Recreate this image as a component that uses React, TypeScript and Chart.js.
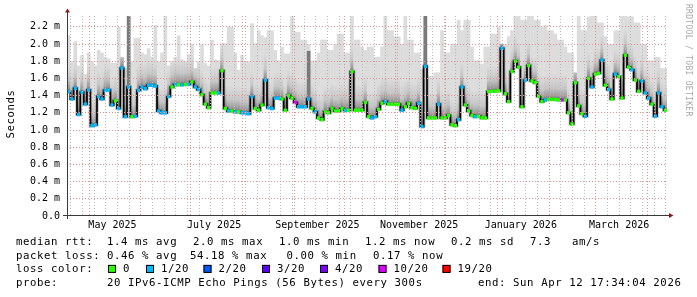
import React, { useEffect, useRef } from 'react';
import { Chart, registerables } from 'chart.js';

Chart.register(...registerables);

// ------------------------------------------------------------------
// DATA
// 360 days ending Sun Apr 12 17:34:04 2026, one sample every 2 days
// ------------------------------------------------------------------
const RANGE_DAYS = 360;
const SAMPLE_DAYS = 2;

const MEDIAN_MS = [
  1.445, 1.36, 1.485, 1.18, 1.44, 1.3, 1.465, 1.05, 1.06, 1.39,
  1.36, 1.46, 1.465, 1.29, 1.34, 1.25, 1.72, 1.155, 1.5, 1.155,
  1.16, 1.46, 1.5, 1.48, 1.52, 1.52, 1.51, 1.22, 1.2, 1.2,
  1.39, 1.5, 1.525, 1.525, 1.525, 1.53, 1.53, 1.56, 1.5, 1.47,
  1.41, 1.3, 1.26, 1.43, 1.43, 1.43, 1.69, 1.25, 1.22, 1.22,
  1.21, 1.21, 1.2, 1.2, 1.19, 1.39, 1.25, 1.23, 1.29, 1.58,
  1.26, 1.25, 1.37, 1.37, 1.36, 1.23, 1.4, 1.37, 1.32, 1.27,
  1.27, 1.27, 1.36, 1.25, 1.21, 1.14, 1.12, 1.21, 1.2, 1.25,
  1.22, 1.22, 1.25, 1.23, 1.23, 1.68, 1.23, 1.23, 1.23, 1.32,
  1.155, 1.14, 1.155, 1.24, 1.31, 1.33, 1.3, 1.3, 1.3, 1.3,
  1.23, 1.27, 1.31, 1.26, 1.25, 1.31, 1.04, 1.74, 1.14, 1.14,
  1.14, 1.3, 1.14, 1.14, 1.17, 1.06, 1.05, 1.12, 1.5, 1.29,
  1.22, 1.17, 1.155, 1.16, 1.14, 1.14, 1.445, 1.45, 1.45, 1.455,
  1.95, 1.42, 1.33, 1.68, 1.8, 1.73, 1.27, 1.58, 1.75, 1.57,
  1.55, 1.39, 1.33, 1.35, 1.355, 1.355, 1.355, 1.35, 1.35, 1.35,
  1.2, 1.07, 1.55, 1.28, 1.19, 1.16, 1.6, 1.5, 1.65, 1.66,
  1.81, 1.52, 1.47, 1.36, 1.65, 1.62, 1.37, 1.87, 1.73, 1.7,
  1.58, 1.45, 1.57, 1.43, 1.37, 1.3, 1.16, 1.43, 1.27, 1.23,
];

const SMOKE_MAX_MS = [
  2.1, 1.8, 2.03, 1.75, 1.87, 1.65, 1.9, 1.8, 1.75, 1.93,
  1.9, 1.85, 1.83, 1.78, 1.78, 2.2, 1.85, 1.72, 2.34, 1.8,
  2.07, 2.07, 1.9, 1.88, 1.95, 1.85, 2.22, 1.8, 1.9, 2.34,
  1.75, 1.8, 1.85, 2.1, 1.82, 1.8, 1.88, 2.0, 1.72, 1.8,
  2.0, 1.78, 1.75, 2.05, 1.82, 1.81, 2.01, 2.01, 2.2, 2.2,
  1.9, 1.7, 1.87, 1.8, 1.8, 2.24, 2.01, 2.16, 2.1, 2.08,
  2.16, 2.16, 1.93, 1.81, 1.97, 1.89, 1.89, 2.34, 2.14, 2.14,
  2.05, 2.05, 2.0, 1.81, 1.81, 1.9, 2.05, 2.05, 1.93, 1.93,
  2.0, 2.12, 2.12, 1.9, 1.9, 2.34, 2.05, 2.05, 1.97, 1.93,
  1.97, 1.97, 1.85, 1.85, 1.97, 2.34, 2.16, 2.16, 2.09, 2.09,
  2.0, 2.34, 2.05, 2.05, 1.9, 1.9, 1.71, 2.34, 1.63, 1.63,
  1.67, 1.67, 2.16, 1.9, 1.9, 2.0, 2.0, 2.28, 2.16, 2.28,
  2.28, 1.97, 1.81, 1.81, 1.77, 1.97, 1.97, 2.12, 2.12, 2.2,
  2.0, 2.0, 2.09, 2.16, 2.34, 2.34, 2.28, 2.28, 2.34, 2.34,
  2.28, 2.28, 2.2, 2.22, 2.16, 2.16, 2.12, 2.05, 2.05, 1.97,
  1.9, 1.9, 1.67, 2.34, 2.16, 2.16, 2.32, 2.34, 2.34, 2.25,
  2.25, 2.09, 2.0, 2.0, 2.16, 2.16, 2.34, 2.34, 2.32, 2.32,
  2.25, 2.25, 2.0, 2.0, 1.81, 1.81, 1.85, 1.85, 1.72, 1.72,
];

// lost pings (of 20) per sample
const LOSS_PINGS = [
  1, 1, 1, 1, 1, 1, 1, 1, 1, 1,
  1, 1, 1, 1, 0, 1, 1, 1, 1, 0,
  1, 1, 1, 1, 1, 1, 1, 1, 1, 1,
  1, 0, 1, 0, 1, 0, 1, 0, 1, 1,
  0, 0, 0, 0, 0, 1, 0, 0, 1, 0,
  1, 0, 1, 1, 1, 1, 0, 0, 0, 1,
  1, 1, 1, 1, 0, 0, 0, 0, 10, 1,
  1, 1, 1, 0, 1, 0, 0, 0, 0, 0,
  0, 0, 0, 1, 0, 0, 0, 0, 0, 0,
  0, 1, 1, 0, 0, 1, 0, 0, 0, 0,
  1, 0, 0, 0, 0, 1, 1, 1, 0, 0,
  0, 1, 0, 0, 0, 0, 0, 1, 1, 0,
  0, 0, 1, 0, 0, 0, 0, 0, 0, 0,
  1, 0, 0, 0, 0, 0, 0, 1, 0, 0,
  0, 0, 0, 1, 0, 0, 0, 0, 10, 0,
  0, 0, 0, 0, 0, 1, 0, 1, 0, 0,
  1, 0, 1, 0, 1, 0, 0, 0, 0, 1,
  0, 0, 1, 1, 1, 0, 1, 1, 1, 0,
];

// samples whose smoke is dark (most pings high) and how far it reaches
const DARK_SMOKE_SAMPLES = [18, 72, 107];
const DARK_SMOKE_TOP_MS = [2.34, 1.92, 2.34];

// time axis (days since Apr 17 2025 17:34)
const MONTH_START_DAYS = [13.268, 44.268, 74.268, 105.268, 136.268, 166.268, 197.268, 227.268, 258.268, 289.268, 317.268, 348.268];
const MONTH_LABEL_DAYS = [27.268, 88.268, 150.268, 211.268, 272.268, 331.268];
const MONTH_LABELS = ['May 2025', 'July 2025', 'September 2025', 'November 2025', 'January 2026', 'March 2026'];
const FIRST_SUNDAY_DAY = 2.268;

// value axis
const Y_GRID_MS = [0, 0.1, 0.2, 0.3, 0.4, 0.5, 0.6, 0.7, 0.8, 0.9, 1.0, 1.1, 1.2, 1.3, 1.4, 1.5, 1.6, 1.7, 1.8, 1.9, 2.0, 2.1, 2.2, 2.3];
const Y_TICK_LABELS = ['0.0', '', '0.2 m', '', '0.4 m', '', '0.6 m', '', '0.8 m', '', '1.0 m', '', '1.2 m', '', '1.4 m', '', '1.6 m', '', '1.8 m', '', '2.0 m', '', '2.2 m', ''];

// loss colours
const LOSS_LEVELS = [0, 1, 2, 3, 4, 10, 19];
const LOSS_LABELS = ['0', '1/20', '2/20', '3/20', '4/20', '10/20', '19/20'];
const LOSS_COLORS = ['#26ff00', '#00b8ff', '#0059ff', '#5e00ff', '#7e00ff', '#dd00ff', '#ff0000'];

// legend texts
const TITLE_Y = 'Seconds';
const CREDIT = 'RRDTOOL / TOBI OETIKER';
const LINE_MEDIAN = ['median rtt:', '1.4 ms avg', '2.0 ms max', '1.0 ms min', '1.2 ms now', '0.2 ms sd', '7.3', 'am/s'];
const LINE_LOSS = ['packet loss:', '0.46 % avg', '54.18 % max', '0.00 % min', '0.17 % now'];
const LINE_COLOR_TITLE = 'loss color:';
const LINE_PROBE = ['probe:', '20 IPv6-ICMP Echo Pings (56 Bytes) every 300s', 'end: Sun Apr 12 17:34:04 2026'];

// ------------------------------------------------------------------
// LAYOUT / STYLE
// ------------------------------------------------------------------
const W = 697;
const H = 297;
const PLOT_W = 600;
const PX_PER_MS = 86;
const PLOT_H = 200;
const Y_MAX = PLOT_H / PX_PER_MS;
const BAR_PX = (SAMPLE_DAYS * PLOT_W) / RANGE_DAYS + 0.35;

const MONO = '"DejaVu Sans Mono", "Liberation Mono", monospace';
const GRID_MINOR = '#b8b8b8';
const GRID_MAJOR = '#e39090';
const AXIS_COLOR = '#3a3a3a';
const ARROW_COLOR = '#8b1a1a';
const SMOKE_LIGHT = '#dcdcdc';
const DARK_SMOKE = '#7a7a7a';
const SMOKE_FADE_PX = 26;

const LEGEND_X0 = 16;
const MEDIAN_XS = [16, 107, 193, 279, 365, 451, 530, 572];
const LOSS_XS = [16, 107, 190, 286.5, 373];
const PROBE_XS = [16, 107, 478];
const BOX_XS = [108, 146, 203.5, 262, 320, 378.5, 442.5];
const LINE_YS = [245, 258.6, 272.4, 286];

function lossColor(n: number): string {
  let c = LOSS_COLORS[0];
  for (let k = 0; k < LOSS_LEVELS.length; k++) if (n >= LOSS_LEVELS[k]) c = LOSS_COLORS[k];
  return c;
}

type XTick = { value: number; kind: 'month' | 'week' | 'none'; label: string };

function buildXTicks(): XTick[] {
  const map = new Map<string, XTick>();
  const key = (v: number) => v.toFixed(3);
  for (let d = FIRST_SUNDAY_DAY; d < RANGE_DAYS; d += 7) map.set(key(d), { value: d, kind: 'week', label: '' });
  MONTH_START_DAYS.forEach((d) => map.set(key(d), { value: d, kind: 'month', label: '' }));
  MONTH_LABEL_DAYS.forEach((d, i) => {
    const t = map.get(key(d));
    if (t) t.label = MONTH_LABELS[i];
    else map.set(key(d), { value: d, kind: 'none', label: MONTH_LABELS[i] });
  });
  return Array.from(map.values()).sort((a, b) => a.value - b.value);
}

const X_TICKS = buildXTicks();

const overlayPlugin = {
  id: 'smokepingOverlay',
  afterDraw(chart: any) {
    const { ctx, chartArea: a } = chart;
    ctx.save();

    // axes
    ctx.strokeStyle = AXIS_COLOR;
    ctx.lineWidth = 1;
    ctx.beginPath();
    ctx.moveTo(a.left + 0.5, a.bottom + 3);
    ctx.lineTo(a.left + 0.5, a.top - 4);
    ctx.moveTo(a.left - 4, a.bottom - 0.5);
    ctx.lineTo(a.right + 3, a.bottom - 0.5);
    ctx.stroke();

    // arrows
    ctx.fillStyle = ARROW_COLOR;
    ctx.beginPath();
    ctx.moveTo(a.left - 2, a.top - 3.5);
    ctx.lineTo(a.left + 3, a.top - 3.5);
    ctx.lineTo(a.left + 0.5, a.top - 7.5);
    ctx.closePath();
    ctx.fill();
    ctx.beginPath();
    ctx.moveTo(a.right + 2, a.bottom - 3);
    ctx.lineTo(a.right + 2, a.bottom + 2);
    ctx.lineTo(a.right + 6.5, a.bottom - 0.5);
    ctx.closePath();
    ctx.fill();

    // y title
    ctx.fillStyle = '#000';
    ctx.font = `10.7px ${MONO}`;
    try { (ctx as any).letterSpacing = '0.58px'; } catch (e) { /* ignore */ }
    ctx.save();
    ctx.translate(11, 114);
    ctx.rotate(-Math.PI / 2);
    ctx.textAlign = 'center';
    ctx.textBaseline = 'middle';
    ctx.fillText(TITLE_Y, 0, 0);
    ctx.restore();

    // legend lines
    ctx.textAlign = 'left';
    ctx.textBaseline = 'alphabetic';
    LINE_MEDIAN.forEach((t, i) => ctx.fillText(t, MEDIAN_XS[i], LINE_YS[0]));
    LINE_LOSS.forEach((t, i) => ctx.fillText(t, LOSS_XS[i], LINE_YS[1]));
    ctx.fillText(LINE_COLOR_TITLE, LEGEND_X0, LINE_YS[2]);
    LOSS_LABELS.forEach((t, i) => {
      const bx = BOX_XS[i];
      ctx.fillStyle = LOSS_COLORS[i];
      ctx.fillRect(bx, LINE_YS[2] - 7.5, 8, 8);
      ctx.strokeStyle = '#000';
      ctx.lineWidth = 1;
      ctx.strokeRect(bx + 0.5, LINE_YS[2] - 7, 7, 7);
      ctx.fillStyle = '#000';
      ctx.fillText(t, bx + 15, LINE_YS[2]);
    });
    LINE_PROBE.forEach((t, i) => ctx.fillText(t, PROBE_XS[i], LINE_YS[3]));

    // credit
    ctx.font = `8px ${MONO}`;
    try { (ctx as any).letterSpacing = '0.3px'; } catch (e) { /* ignore */ }
    ctx.fillStyle = '#a8a8a8';
    ctx.save();
    ctx.translate(688, 4);
    ctx.rotate(Math.PI / 2);
    ctx.textAlign = 'left';
    ctx.textBaseline = 'middle';
    ctx.fillText(CREDIT, 0, 0);
    ctx.restore();

    ctx.restore();
  },
};

export default function App() {
  const canvasRef = useRef<HTMLCanvasElement | null>(null);

  useEffect(() => {
    const canvas = canvasRef.current;
    if (!canvas) return;

    const days = MEDIAN_MS.map((_, i) => i * SAMPLE_DAYS + SAMPLE_DAYS / 2);
    const smokeData = days.map((d, i) => ({ x: d, y: [MEDIAN_MS[i], SMOKE_MAX_MS[i]] }));
    const darkData = DARK_SMOKE_SAMPLES.map((s, k) => ({ x: days[s], y: [MEDIAN_MS[s], DARK_SMOKE_TOP_MS[k]] }));
    const medianData = days.map((d, i) => ({ x: d, y: MEDIAN_MS[i] }));
    const pointColors = LOSS_PINGS.map(lossColor);

    const smokeColor = (c: any) => {
      const chart = c.chart;
      const ys = chart.scales && chart.scales.y;
      if (c.type !== 'data' || !c.raw || !ys) return SMOKE_LIGHT;
      const y0 = ys.getPixelForValue(c.raw.y[0]);
      if (!Number.isFinite(y0)) return SMOKE_LIGHT;
      const g = chart.ctx.createLinearGradient(0, y0, 0, y0 - SMOKE_FADE_PX);
      g.addColorStop(0, '#767676');
      g.addColorStop(0.15, '#9c9c9c');
      g.addColorStop(0.45, '#c6c6c6');
      g.addColorStop(1, SMOKE_LIGHT);
      return g;
    };

    const chart = new Chart(canvas, {
      type: 'bar',
      data: {
        datasets: [
          {
            type: 'bar',
            label: 'smoke',
            data: smokeData as any,
            backgroundColor: smokeColor as any,
            borderWidth: 0,
            barThickness: BAR_PX,
            grouped: false,
            inflateAmount: 0,
            order: 4,
          },
          {
            type: 'bar',
            label: 'dark smoke',
            data: darkData as any,
            backgroundColor: DARK_SMOKE,
            borderWidth: 0,
            barThickness: BAR_PX,
            grouped: false,
            inflateAmount: 0,
            order: 3,
          },
          {
            type: 'line',
            label: 'median shadow',
            data: medianData as any,
            borderColor: 'rgba(0,0,0,0.22)',
            borderWidth: 3.5,
            stepped: 'middle',
            pointRadius: 0,
            order: 2,
          },
          {
            type: 'line',
            label: 'median rtt',
            data: medianData as any,
            borderColor: '#000',
            borderWidth: 1.7,
            stepped: 'middle',
            pointStyle: 'rect',
            pointRadius: 2.4,
            pointBorderWidth: 0,
            pointBackgroundColor: pointColors,
            order: 1,
          },
        ],
      },
      options: {
        responsive: false,
        animation: false,
        events: [],
        layout: { padding: { left: 0, right: 30, top: 16, bottom: 61 } },
        plugins: { legend: { display: false }, tooltip: { enabled: false } },
        scales: {
          x: {
            type: 'linear',
            min: 0,
            max: RANGE_DAYS,
            offset: false,
            afterBuildTicks: (s: any) => {
              s.ticks = X_TICKS.map((t) => ({ value: t.value }));
            },
            afterFit: (s: any) => {
              s.height = 20;
            },
            grid: {
              offset: false,
              drawTicks: false,
              z: 1,
              lineWidth: 1,
              color: (c: any) => {
                const t = X_TICKS[c.index];
                if (!t) return 'rgba(0,0,0,0)';
                if (t.kind === 'month') return GRID_MAJOR;
                if (t.kind === 'week') return GRID_MINOR;
                return 'rgba(0,0,0,0)';
              },
            },
            border: { display: false, dash: [1, 2] },
            ticks: {
              autoSkip: false,
              maxRotation: 0,
              minRotation: 0,
              padding: 3,
              color: '#000',
              font: { family: MONO, size: 10 },
              callback: (_v: any, i: number) => (X_TICKS[i] ? X_TICKS[i].label : ''),
            },
          },
          y: {
            type: 'linear',
            min: 0,
            max: Y_MAX,
            afterBuildTicks: (s: any) => {
              s.ticks = Y_GRID_MS.map((v) => ({ value: v }));
            },
            afterFit: (s: any) => {
              s.width = 67;
            },
            grid: {
              drawTicks: false,
              z: 1,
              lineWidth: 1,
              color: (c: any) => {
                if (c.index === 0) return 'rgba(0,0,0,0)';
                return c.index % 2 === 0 ? GRID_MAJOR : GRID_MINOR;
              },
            },
            border: { display: false, dash: [1, 2] },
            ticks: {
              padding: 7,
              color: '#000',
              font: { family: MONO, size: 10 },
              callback: (_v: any, i: number) => Y_TICK_LABELS[i] ?? '',
            },
          },
        },
      },
      plugins: [overlayPlugin],
    } as any);

    return () => {
      chart.destroy();
    };
  }, []);

  return (
    <div style={{ position: 'fixed', left: 0, top: 0, width: W, height: H, background: '#fff' }}>
      <canvas ref={canvasRef} width={W} height={H} style={{ display: 'block', width: W, height: H }} />
    </div>
  );
}
